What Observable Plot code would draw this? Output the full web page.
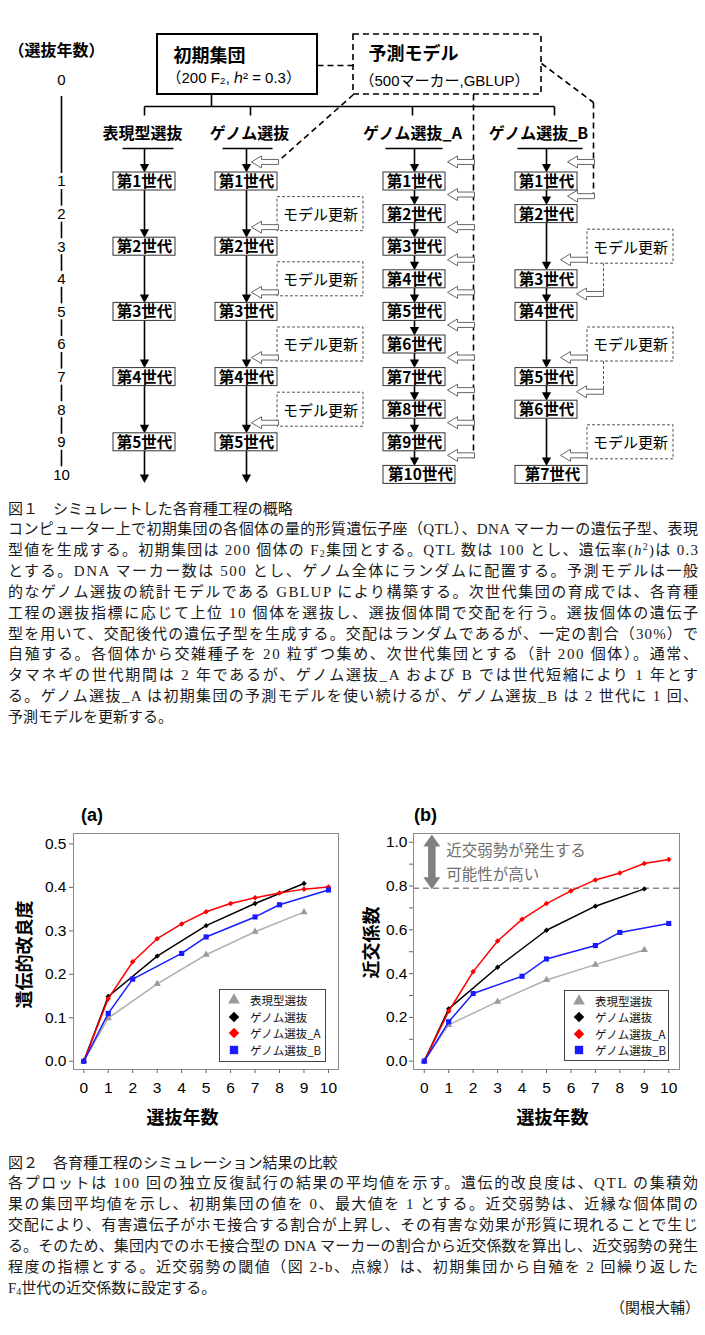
<!DOCTYPE html>
<html lang="ja">
<head>
<meta charset="utf-8">
<script src="https://cdn.jsdelivr.net/npm/d3@7"></script>
<script src="https://cdn.jsdelivr.net/npm/@observablehq/plot@0.6"></script>
<style>
html,body{margin:0;padding:0;background:#fff;}
body{position:relative;width:705px;height:1335px;overflow:hidden;}
.abs{position:absolute;}
.cap{position:absolute;left:8px;width:700px;font-family:"Liberation Serif","Noto Sans CJK JP",serif;font-size:15px;color:#1a1a1a;}
.cap .ln{height:20.85px;line-height:20.85px;white-space:nowrap;}
.cap sub{font-size:10px;vertical-align:-2px;line-height:0;}
.cap sup{font-size:10px;vertical-align:5px;line-height:0;}
.legend{position:absolute;box-sizing:border-box;border:1px solid #444;background:#fff;font-family:"Noto Sans CJK JP",sans-serif;font-size:11.5px;color:#111;}
.legend .row{position:absolute;left:0;height:16px;line-height:16px;white-space:nowrap;}
.legend svg{position:absolute;left:6px;top:0;}
.legend span{position:absolute;left:30px;top:0;line-height:16px;}
</style>
</head>
<body>
<div id="flow" class="abs" style="left:0;top:0"></div>
<div id="cap1" class="cap" style="top:498.5px"></div>
<div id="chartA" class="abs" style="left:0;top:790px"></div>
<div id="chartB" class="abs" style="left:350px;top:790px"></div>
<div id="cap2" class="cap" style="top:1152.5px"></div>
<script>
// ---------------- data ----------------
const xTicks = [0,1,2,3,4,5,6,7,8,9,10];
const gainTicks = [0,0.1,0.2,0.3,0.4,0.5];
const inbTicks = [0,0.2,0.4,0.6,0.8,1.0];
const inbMinorTicks = [0.1,0.3,0.5,0.7,0.9];

const seriesNames = ["表現型選抜","ゲノム選抜","ゲノム選抜_A","ゲノム選抜_B"];
const phenoYears = [0,1,3,5,7,9];
const genoYears  = [0,1,3,5,7,9];
const genoAYears = [0,1,2,3,4,5,6,7,8,9,10];
const genoBYears = [0,1,2,4,5,7,8,10];

// (a) 遺伝的改良度
const phenoGain = [0,0.099,0.178,0.245,0.298,0.343];
const genoGain  = [0,0.149,0.242,0.312,0.363,0.409];
const genoAGain = [0,0.144,0.229,0.282,0.316,0.344,0.363,0.376,0.387,0.396,0.401];
const genoBGain = [0,0.110,0.189,0.248,0.286,0.332,0.360,0.394];

// (b) 近交係数
const phenoInb = [0,0.166,0.272,0.371,0.441,0.508];
const genoInb  = [0,0.239,0.429,0.598,0.708,0.787];
const genoAInb = [0,0.228,0.409,0.549,0.648,0.720,0.778,0.828,0.860,0.903,0.921];
const genoBInb = [0,0.180,0.309,0.388,0.467,0.528,0.588,0.629];
const inbThreshold = 0.79;
const riskArrowEnds = [0.785, 1.035];
const riskLabel = ["近交弱勢が発生する", "可能性が高い"];
const riskLabelY = [0.958, 0.852];

const xTitle = "選抜年数";
const gainTitle = "遺伝的改良度";
const inbTitle = "近交係数";

// flowchart data
const flowYears = [0,1,2,3,4,5,6,7,8,9,10];
const flowCols = ["表現型選抜","ゲノム選抜","ゲノム選抜_A","ゲノム選抜_B"];
const flowGens = [phenoYears.slice(1), genoYears.slice(1), genoAYears.slice(1), genoBYears.slice(1)];
const genoUpdateYears = [2,4,6,8];
const genoBUpdateYears = [3,6,9];

// ---------------- fonts ----------------
const latinFont = '"Liberation Sans","Noto Sans CJK JP",Arial,sans-serif';
const cjkFont = '"Noto Sans CJK JP",sans-serif';

// ---------------- flowchart ----------------
const yr = k => 181 + 32.6 * (k - 1);
const colX = [144, 246, 414, 546];
const dropX = [144, 250, 412, 554];
const barX = [[122,173],[222,272],[385,442],[517,582]];
const titleX = [142, 249, 412, 538];

const downHead = {draw(c){c.moveTo(0,0);c.lineTo(4.6,-8.5);c.lineTo(-4.6,-8.5);c.closePath();}};
const hollowLeft = {draw(c){c.moveTo(0,0);c.lineTo(10,-6);c.lineTo(10,-2.5);c.lineTo(27,-2.5);c.lineTo(27,2.5);c.lineTo(10,2.5);c.lineTo(10,6);c.closePath();}};

const flowSegs = [], genBoxes = [];
flowGens.forEach((gens, c) => {
  const x = colX[c];
  let prev = 148;
  gens.forEach((g, i) => {
    flowSegs.push({x, y1: prev, y2: yr(g) - 9});
    genBoxes.push({x, year: g, label: `第${i+1}世代`, w2: g === 10 ? 41 : 31, tx: g === 10 ? x + 6 : x});
    prev = yr(g) + 9;
  });
  if (c < 2) flowSegs.push({x, y1: prev, y2: yr(10) + 8});
});

const hollow = [];
flowGens[1].forEach(g => { if (g === 1 || genoUpdateYears.includes(g - 1)) hollow.push({x: 251, y: yr(g - 0.6)}); });
flowGens[2].forEach(g => hollow.push({x: 447, y: yr(g - 0.6)}));
hollow.push({x: 567, y: yr(0.4)}, {x: 567, y: yr(1.45)});
const updateLinks = [];
genoBUpdateYears.forEach(u => {
  if (flowGens[3].includes(u + 1)) hollow.push({x: 560, y: yr(u + 0.4)});
  if (flowGens[3].includes(u + 2)) {
    hollow.push({x: 576, y: yr(u + 1.45)});
    updateLinks.push({x: 603, y1: yr(u) + 17, y2: yr(u + 1.45)});
  }
});

const yearSegs = flowYears.slice(0, -1).map(k => ({y1: k === 0 ? 96 : yr(k) + 8, y2: yr(k + 1) - 8}));

const solidLinks = [
  {x1:211,y1:94,x2:211,y2:106},
  {x1:dropX[0],y1:106,x2:dropX[3],y2:106},
  ...dropX.map(x => ({x1:x,y1:106,x2:x,y2:115}))
];
const dashLinks = [
  {x1:317,y1:65,x2:353,y2:65},
  {x1:353,y1:94,x2:277,y2:yr(0.4)},
  {x1:473,y1:94,x2:473,y2:yr(9.4)+3},
  {x1:541,y1:63,x2:593,y2:102},
  {x1:593,y1:102,x2:593,y2:yr(1.45)}
];
const updateBoxes = [
  ...genoUpdateYears.map(u => ({x1:277, x2:363, y: yr(u)})),
  ...genoBUpdateYears.map(u => ({x1:587, x2:673, y: yr(u)}))
];

const flow = Plot.plot({
  width: 705, height: 490, margin: 0,
  x: {type: "linear", domain: [0, 705], range: [0, 705], axis: null},
  y: {type: "linear", domain: [0, 490], range: [0, 490], axis: null},
  style: {fontFamily: latinFont, background: "white", color: "#000"},
  marks: [
    // year axis
    Plot.ruleX(yearSegs, {x: 61, y1: "y1", y2: "y2", stroke: "#000", strokeWidth: 1.6}),
    Plot.text(flowYears, {x: 61, y: k => k === 0 ? 80 : yr(k), text: d => String(d), fontSize: 15, fontFamily: latinFont}),
    Plot.text(["（選抜年数）"], {x: 56, y: 50, fontSize: 16, fontWeight: "bold", fontFamily: cjkFont}),
    // top boxes
    Plot.rect([0], {x1: 157, x2: 317, y1: 34, y2: 94, fill: "white", stroke: "#000", strokeWidth: 2}),
    Plot.rect([0], {x1: 353, x2: 541, y1: 34, y2: 94, fill: "white", stroke: "#000", strokeWidth: 1.6, strokeDasharray: "6,4"}),
    Plot.text(["初期集団"], {x: 173, y: 56, textAnchor: "start", fontSize: 18, fontWeight: "bold", fontFamily: cjkFont}),
    Plot.text(["（200 F₂, ℎ² = 0.3）"], {x: 166, y: 78, textAnchor: "start", fontSize: 15, fontFamily: latinFont}),
    Plot.text(["予測モデル"], {x: 368, y: 54, textAnchor: "start", fontSize: 18, fontWeight: "bold", fontFamily: cjkFont}),
    Plot.text(["（500マーカー,GBLUP）"], {x: 359, y: 81, textAnchor: "start", fontSize: 15, fontFamily: latinFont}),
    // connectors
    Plot.link(solidLinks, {x1: "x1", y1: "y1", x2: "x2", y2: "y2", stroke: "#000", strokeWidth: 1.6}),
    Plot.link(dashLinks, {x1: "x1", y1: "y1", x2: "x2", y2: "y2", stroke: "#000", strokeWidth: 1.6, strokeDasharray: "6,4"}),
    // column titles and bars
    Plot.text(flowCols, {x: (d, i) => titleX[i], y: 133, fontSize: 16, fontWeight: "bold", fontFamily: cjkFont}),
    Plot.link(barX, {x1: d => d[0], x2: d => d[1], y1: 148, y2: 148, stroke: "#000", strokeWidth: 1.6}),
    // flow arrows
    Plot.ruleX(flowSegs, {x: "x", y1: "y1", y2: d => d.y2 - 2, stroke: "#000", strokeWidth: 1.6}),
    Plot.dot(flowSegs, {x: "x", y: "y2", symbol: downHead, fill: "#000", stroke: "none"}),
    // update boxes
    Plot.rect(updateBoxes, {x1: "x1", x2: "x2", y1: d => d.y - 17, y2: d => d.y + 17, fill: "white", stroke: "#555", strokeWidth: 1, strokeDasharray: "3,2"}),
    Plot.text(updateBoxes, {x: d => (d.x1 + d.x2) / 2, y: d => d.y + 1, text: () => "モデル更新", fontSize: 15, fontFamily: cjkFont}),
    Plot.ruleX(updateLinks, {x: "x", y1: "y1", y2: "y2", stroke: "#555", strokeWidth: 1, strokeDasharray: "3,2"}),
    // hollow arrows
    Plot.dot(hollow, {x: "x", y: "y", symbol: hollowLeft, fill: "white", stroke: "#666", strokeWidth: 1}),
    // generation boxes
    Plot.rect(genBoxes, {x1: d => d.x - 31, x2: d => d.x + d.w2, y1: d => yr(d.year) - 9, y2: d => yr(d.year) + 9, fill: "white", stroke: "#333", strokeWidth: 1}),
    Plot.text(genBoxes, {x: "tx", y: d => yr(d.year) + 0.5, text: "label", fontSize: 15.5, fontWeight: "bold", fontFamily: cjkFont})
  ]
});
document.getElementById("flow").appendChild(flow);

// ---------------- charts ----------------
const seriesDefs = [
  {name: seriesNames[0], years: phenoYears, a: phenoGain, b: phenoInb, line: "#b0b0b0", mark: "#9a9a9a", symbol: "triangle", r: 2.7, lsym: d3.symbolTriangle, lsize: 60},
  {name: seriesNames[1], years: genoYears, a: genoGain, b: genoInb, line: "#000000", mark: "#000000", symbol: "diamond2", r: 2.4, lsym: d3.symbolDiamond2, lsize: 70},
  {name: seriesNames[2], years: genoAYears, a: genoAGain, b: genoAInb, line: "#ff0000", mark: "#ff0000", symbol: "diamond2", r: 2.5, lsym: d3.symbolDiamond2, lsize: 70},
  {name: seriesNames[3], years: genoBYears, a: genoBGain, b: genoBInb, line: "#1a1aff", mark: "#1a1aff", symbol: "square", r: 2.9, lsym: d3.symbolSquare, lsize: 70}
];

const upHead = {draw(c){c.moveTo(0,0);c.lineTo(8.5,12);c.lineTo(-8.5,12);c.closePath();}};
const dnHead = {draw(c){c.moveTo(0,0);c.lineTo(8.5,-12);c.lineTo(-8.5,-12);c.closePath();}};

function makeChart(cfg) {
  const marks = [
    Plot.frame({stroke: "#8a8a8a"}),
    Plot.axisX({ticks: xTicks, tickSize: 4, tickPadding: 8, tickFormat: d => String(d), label: null, fontSize: 15.5, stroke: "#666"}),
    Plot.axisY({ticks: cfg.yTicks, tickSize: 4, tickPadding: cfg.yPad, tickFormat: d3.format(".1f"), label: null, fontSize: 15.5, stroke: "#666"})
  ];
  if (cfg.yMinor) marks.push(Plot.axisY({ticks: cfg.yMinor, tickSize: 4, tickFormat: () => "", label: null, stroke: "#666"}));
  if (cfg.extra) marks.push(...cfg.extra);
  seriesDefs.forEach(s => {
    const data = s.years.map((yv, i) => ({year: yv, v: s[cfg.key][i]}));
    marks.push(Plot.line(data, {x: "year", y: "v", stroke: s.line, strokeWidth: 1.5}));
    marks.push(Plot.dot(data, {x: "year", y: "v", symbol: s.symbol, r: s.r, fill: s.mark, stroke: "none"}));
  });
  marks.push(Plot.text([cfg.panel], {frameAnchor: "top-left", textAnchor: "middle", lineAnchor: "middle", dx: cfg.pdx, dy: -18.5, fontSize: 18, fontWeight: "bold", fontFamily: latinFont}));
  marks.push(Plot.text([xTitle], {frameAnchor: "bottom", textAnchor: "middle", lineAnchor: "middle", dx: cfg.xdx, dy: 49, fontSize: 18, fontWeight: "bold", fontFamily: cjkFont}));
  marks.push(Plot.text([cfg.yTitle], {frameAnchor: "left", textAnchor: "middle", lineAnchor: "middle", rotate: -90, dx: cfg.ydx, dy: cfg.ydy, fontSize: 18, fontWeight: "bold", fontFamily: cjkFont}));
  return Plot.plot({
    width: cfg.width, height: 340,
    marginLeft: cfg.ml, marginRight: cfg.mr, marginTop: 43, marginBottom: 61,
    x: {type: "linear", domain: cfg.xDomain},
    y: {type: "linear", domain: cfg.yDomain},
    style: {fontFamily: latinFont, background: "white", color: "#000", overflow: "visible"},
    marks
  });
}

const chartA = makeChart({
  key: "a", width: 350, ml: 73, mr: 12,
  xDomain: [-0.42, 10.41], yDomain: [-0.019, 0.524],
  yTicks: gainTicks, yPad: 3, panel: "(a)", pdx: 18.5,
  xdx: -23.5, yTitle: gainTitle, ydx: -48, ydy: 3
});
document.getElementById("chartA").appendChild(chartA);

const chartB = makeChart({
  key: "b", width: 355, ml: 63, mr: 26,
  xDomain: [-0.44, 10.44], yDomain: [-0.038, 1.04],
  yTicks: inbTicks, yMinor: inbMinorTicks, yPad: 2, panel: "(b)", pdx: 12,
  xdx: 6, yTitle: inbTitle, ydx: -41, ydy: -9,
  extra: [
    Plot.ruleY([inbThreshold], {stroke: "#888", strokeWidth: 1.3, strokeDasharray: "6,4"}),
    Plot.ruleX([0.31], {y1: riskArrowEnds[0] + 0.04, y2: riskArrowEnds[1] - 0.04, stroke: "#808080", strokeWidth: 7.5}),
    Plot.dot([riskArrowEnds[1]], {x: 0.31, y: d => d, symbol: upHead, fill: "#808080", stroke: "none"}),
    Plot.dot([riskArrowEnds[0]], {x: 0.31, y: d => d, symbol: dnHead, fill: "#808080", stroke: "none"}),
    Plot.text(riskLabel, {x: 0.9, y: (d, i) => riskLabelY[i], textAnchor: "start", lineAnchor: "middle", fontSize: 15.5, fill: "#6e6e6e", fontFamily: cjkFont})
  ]
});
document.getElementById("chartB").appendChild(chartB);

// legends
function legend(left, top, w, h, rows) {
  const box = document.createElement("div");
  box.className = "legend";
  Object.assign(box.style, {left: left + "px", top: top + "px", width: w + "px", height: h + "px"});
  seriesDefs.forEach((s, i) => {
    const row = document.createElement("div");
    row.className = "row";
    row.style.top = (rows[i] - 8) + "px";
    row.style.width = w + "px";
    const path = d3.symbol(s.lsym, s.lsize)();
    row.innerHTML = `<svg width="16" height="16" viewBox="-8 -8 16 16"><path d="${path}" fill="${s.mark}"/></svg><span>${s.name}</span>`;
    box.appendChild(row);
  });
  document.body.appendChild(box);
}
legend(219, 989, 107, 73, [10, 26.5, 43, 59.5]);
legend(564, 990, 105, 71, [9.5, 26, 42.5, 59]);

// ---------------- captions ----------------
const cap1Lines = [
  {t: "図１　シミュレートした各育種工程の概略"},
  {t: "コンピューター上で初期集団の各個体の量的形質遺伝子座（QTL）、DNA マーカーの遺伝子型、表現", full: true},
  {t: "型値を生成する。初期集団は 200 個体の F<sub>2</sub>集団とする。QTL 数は 100 とし、遺伝率(<i>h</i><sup>2</sup>)は 0.3", full: true},
  {t: "とする。DNA マーカー数は 500 とし、ゲノム全体にランダムに配置する。予測モデルは一般", full: true},
  {t: "的なゲノム選抜の統計モデルである GBLUP により構築する。次世代集団の育成では、各育種", full: true},
  {t: "工程の選抜指標に応じて上位 10 個体を選抜し、選抜個体間で交配を行う。選抜個体の遺伝子", full: true},
  {t: "型を用いて、交配後代の遺伝子型を生成する。交配はランダムであるが、一定の割合（30%）で", full: true},
  {t: "自殖する。各個体から交雑種子を 20 粒ずつ集め、次世代集団とする（計 200 個体）。通常、", full: true},
  {t: "タマネギの世代期間は 2 年であるが、ゲノム選抜_A および B では世代短縮により 1 年とす", full: true},
  {t: "る。ゲノム選抜_A は初期集団の予測モデルを使い続けるが、ゲノム選抜_B は 2 世代に 1 回、", full: true},
  {t: "予測モデルを更新する。"}
];
const cap2Lines = [
  {t: "図２　各育種工程のシミュレーション結果の比較"},
  {t: "各プロットは 100 回の独立反復試行の結果の平均値を示す。遺伝的改良度は、QTL の集積効", full: true},
  {t: "果の集団平均値を示し、初期集団の値を 0、最大値を 1 とする。近交弱勢は、近縁な個体間の", full: true},
  {t: "交配により、有害遺伝子がホモ接合する割合が上昇し、その有害な効果が形質に現れることで生じ", full: true},
  {t: "る。そのため、集団内でのホモ接合型の DNA マーカーの割合から近交係数を算出し、近交弱勢の発生", full: true},
  {t: "程度の指標とする。近交弱勢の閾値（図 2-b、点線）は、初期集団から自殖を 2 回繰り返した", full: true},
  {t: "F<sub>4</sub>世代の近交係数に設定する。"},
  {t: "（関根大輔）", right: true}
];
function fillCaption(id, lines, target) {
  const el = document.getElementById(id);
  lines.forEach(l => {
    const d = document.createElement("div");
    d.className = "ln";
    const s = document.createElement("span");
    s.innerHTML = l.t;
    d.appendChild(s);
    el.appendChild(d);
    if (l.full) {
      const w = s.getBoundingClientRect().width;
      const n = [...s.textContent].length;
      s.style.letterSpacing = ((target - w) / (n - 1)) + "px";
    }
    if (l.right) { d.style.textAlign = "right"; d.style.width = (target + 2) + "px"; }
  });
}
fillCaption("cap1", cap1Lines, 690);
fillCaption("cap2", cap2Lines, 690);
</script>
</body>
</html>
